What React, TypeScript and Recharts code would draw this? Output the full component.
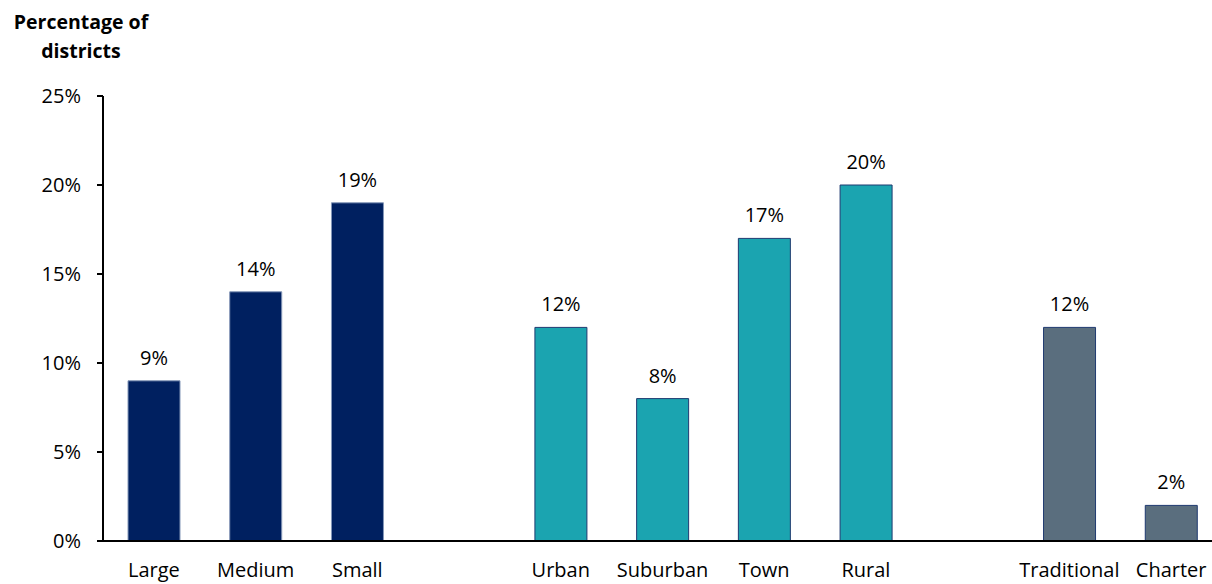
import React from "react";
import { BarChart, Bar, XAxis, YAxis, Cell, LabelList } from "recharts";

const categories = ["Large", "Medium", "Small", " ", "Urban", "Suburban", "Town", "Rural", "  ", "Traditional", "Charter"];
const values: (number | null)[] = [9, 14, 19, null, 12, 8, 17, 20, null, 12, 2];
const groups = ["size", "size", "size", "gap", "locale", "locale", "locale", "locale", "gap", "type", "type"];
const yTicks = [0, 5, 10, 15, 20, 25];

const fills: Record<string, string> = { size: "#002060", locale: "#1BA4B0", type: "#5A6E7E", gap: "none" };
const strokes: Record<string, string> = { size: "#8497B8", locale: "#1F3A70", type: "#1F3A70", gap: "none" };

const data = categories.map((c, i) => ({ name: c, value: values[i], group: groups[i] }));

const FONT = "'Open Sans', sans-serif";

export default function App() {
  return (
    <div style={{ position: "absolute", left: 0, top: 0, width: 1212, height: 584, overflow: "hidden", background: "#fff" }}>
      <div
        style={{
          position: "absolute",
          left: 0,
          top: 7,
          width: 162,
          textAlign: "center",
          fontFamily: FONT,
          fontWeight: 700,
          fontSize: 19.5,
          lineHeight: "29px",
          color: "#000",
        }}
      >
        Percentage of
        <br />
        districts
      </div>
      <BarChart
        width={1222}
        height={584}
        data={data}
        margin={{ top: 96, right: 0, bottom: 0, left: 0 }}
        barCategoryGap={0}
      >
        <XAxis
          dataKey="name"
          tickLine={false}
          axisLine={{ stroke: "#000", strokeWidth: 2 }}
          tick={{ fontFamily: FONT, fontSize: 20, fill: "#000" }}
          tickMargin={16}
          height={43}
          interval={0}
        />
        <YAxis
          width={103}
          domain={[0, 25]}
          ticks={yTicks}
          tickFormatter={(v: number) => `${v}%`}
          axisLine={{ stroke: "#000", strokeWidth: 2 }}
          tickLine={{ stroke: "#000", strokeWidth: 2 }}
          tickSize={6}
          tickMargin={16}
          tick={{ fontFamily: FONT, fontSize: 20, fill: "#000" }}
          allowDataOverflow
        />
        <Bar dataKey="value" barSize={52} isAnimationActive={false}>
          {data.map((d, i) => (
            <Cell key={i} fill={fills[d.group]} stroke={strokes[d.group]} strokeWidth={1} />
          ))}
          <LabelList
            dataKey="value"
            position="top"
            offset={16}
            formatter={(v: any) => (v == null ? "" : `${v}%`)}
            style={{ fontFamily: FONT, fontSize: 20, fill: "#000" }}
          />
        </Bar>
      </BarChart>
    </div>
  );
}
